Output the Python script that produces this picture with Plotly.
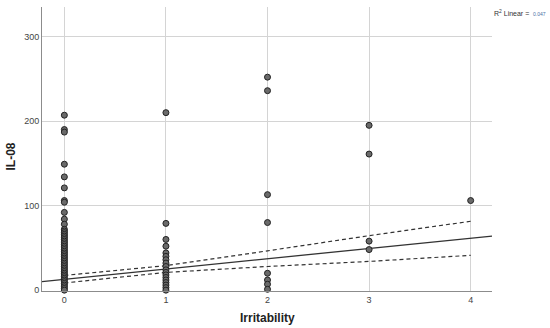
import plotly.graph_objects as go

# Irritability levels and IL-08 values per level
levels = [0, 1, 2, 3, 4]
il08_0 = [207, 190, 187, 149, 134, 121, 106, 104, 92, 84, 78, 72, 70, 68, 66, 64, 62,
          60, 58, 56, 54, 52, 50, 48, 46, 44, 42, 40, 38, 36, 34, 32, 30, 28, 26, 24,
          22, 20, 18, 16, 14, 12, 10, 8, 6, 4, 2, 0]
il08_1 = [210, 79, 60, 52, 44, 40, 36, 32, 28, 24, 21, 18, 15, 12, 9, 6, 3, 0]
il08_2 = [252, 236, 113, 80, 20, 12, 7, 1]
il08_3 = [195, 161, 58, 48]
il08_4 = [106]

# Linear fit line and 95% confidence band
fit_x = [-0.22, 4.21]
fit_y = [10.2, 64.0]
band_x = [0, 1, 2, 3, 4]
band_upper = [17.4, 29.0, 46.5, 64.5, 81.5]
band_lower = [8.5, 21.0, 28.0, 34.0, 41.2]

y_ticks = [0, 100, 200, 300]
x_ticks = [0, 1, 2, 3, 4]

groups = [il08_0, il08_1, il08_2, il08_3, il08_4]
xs, ys = [], []
for lv, vals in zip(levels, groups):
    xs += [lv] * len(vals)
    ys += vals

FONT = "Liberation Sans, Arial, sans-serif"

fig = go.Figure()
fig.add_trace(go.Scatter(
    x=fit_x, y=fit_y, mode="lines",
    line=dict(color="#333333", width=1.3), showlegend=False, hoverinfo="skip"))
fig.add_trace(go.Scatter(
    x=band_x, y=band_upper, mode="lines",
    line=dict(color="#333333", width=1.2, dash="4px,3px"), showlegend=False, hoverinfo="skip"))
fig.add_trace(go.Scatter(
    x=band_x, y=band_lower, mode="lines",
    line=dict(color="#333333", width=1.2, dash="4px,3px"), showlegend=False, hoverinfo="skip"))
fig.add_trace(go.Scatter(
    x=xs, y=ys, mode="markers", cliponaxis=False,
    marker=dict(size=6, color="#6a6a6a", line=dict(color="#222222", width=1)),
    showlegend=False))

# R² label
fig.add_annotation(
    xref="paper", yref="paper", x=1.0, y=0.978, xanchor="left", yanchor="middle",
    showarrow=False, text="R<sup>2</sup> Linear =",
    font=dict(family=FONT, size=7, color="#333333"))
fig.add_annotation(
    xref="paper", yref="paper", x=1.086, y=0.975, xanchor="left", yanchor="middle",
    showarrow=False, text="0.047",
    font=dict(family=FONT, size=5, color="#4a6fa5"))

# Axis titles
fig.add_annotation(
    xref="paper", yref="paper", x=0.5, y=-0.094, xanchor="center", yanchor="middle",
    showarrow=False, text="<b>Irritability</b>",
    font=dict(family=FONT, size=12, color="#222222"))
fig.add_annotation(
    xref="paper", yref="paper", x=-0.068, y=0.475, xanchor="center", yanchor="middle",
    showarrow=False, text="<b>IL-08</b>", textangle=-90,
    font=dict(family=FONT, size=12, color="#222222"))

fig.update_layout(
    width=550, height=328,
    margin=dict(l=42, r=58, t=7, b=37, autoexpand=False),
    paper_bgcolor="white", plot_bgcolor="white",
    font=dict(family=FONT, color="#333333"),
    xaxis=dict(
        range=[-0.22, 4.21], tickvals=x_ticks, ticktext=[str(t) for t in x_ticks],
        showgrid=True, gridcolor="#d4d4d4", gridwidth=1, zeroline=False,
        showline=True, linecolor="#8c8c8c", linewidth=1, ticks="",
        tickfont=dict(size=9, color="#444444"), automargin=False),
    yaxis=dict(
        range=[-1, 335], tickvals=y_ticks, ticktext=[str(t) for t in y_ticks],
        showgrid=True, gridcolor="#d4d4d4", gridwidth=1, zeroline=False,
        showline=True, linecolor="#8c8c8c", linewidth=1, ticks="",
        tickfont=dict(size=9, color="#444444"), automargin=False),
)

fig.write_html(
    "out.html",
    config={"displayModeBar": False},
    post_script="document.body.style.margin='0';document.body.style.overflow='hidden';")
